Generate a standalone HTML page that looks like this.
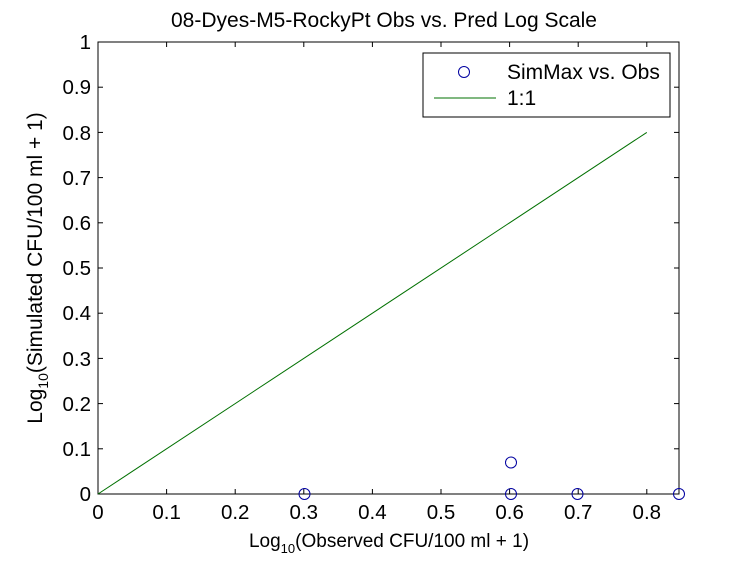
<!DOCTYPE html>
<html><head><style>body{margin:0;background:#fff}</style></head><body>
<svg width="750" height="563" xmlns="http://www.w3.org/2000/svg" font-family="Liberation Sans, sans-serif">
<rect width="750" height="563" fill="#fff"/>
<rect x="98" y="42" width="581" height="452" fill="#fff" stroke="#000" stroke-width="1"/>
<g stroke="#000" stroke-width="1">
<line x1="166.6" y1="494" x2="166.6" y2="489"/><line x1="235.2" y1="494" x2="235.2" y2="489"/><line x1="303.8" y1="494" x2="303.8" y2="489"/><line x1="372.4" y1="494" x2="372.4" y2="489"/><line x1="441" y1="494" x2="441" y2="489"/><line x1="509.6" y1="494" x2="509.6" y2="489"/><line x1="578.2" y1="494" x2="578.2" y2="489"/><line x1="646.8" y1="494" x2="646.8" y2="489"/>
<line x1="166.6" y1="42" x2="166.6" y2="47"/><line x1="235.2" y1="42" x2="235.2" y2="47"/><line x1="303.8" y1="42" x2="303.8" y2="47"/><line x1="372.4" y1="42" x2="372.4" y2="47"/><line x1="441" y1="42" x2="441" y2="47"/><line x1="509.6" y1="42" x2="509.6" y2="47"/><line x1="578.2" y1="42" x2="578.2" y2="47"/><line x1="646.8" y1="42" x2="646.8" y2="47"/>
<line x1="98" y1="448.8" x2="103" y2="448.8"/><line x1="98" y1="403.6" x2="103" y2="403.6"/><line x1="98" y1="358.4" x2="103" y2="358.4"/><line x1="98" y1="313.2" x2="103" y2="313.2"/><line x1="98" y1="268" x2="103" y2="268"/><line x1="98" y1="222.8" x2="103" y2="222.8"/><line x1="98" y1="177.6" x2="103" y2="177.6"/><line x1="98" y1="132.4" x2="103" y2="132.4"/><line x1="98" y1="87.2" x2="103" y2="87.2"/>
<line x1="679" y1="448.8" x2="674" y2="448.8"/><line x1="679" y1="403.6" x2="674" y2="403.6"/><line x1="679" y1="358.4" x2="674" y2="358.4"/><line x1="679" y1="313.2" x2="674" y2="313.2"/><line x1="679" y1="268" x2="674" y2="268"/><line x1="679" y1="222.8" x2="674" y2="222.8"/><line x1="679" y1="177.6" x2="674" y2="177.6"/><line x1="679" y1="132.4" x2="674" y2="132.4"/><line x1="679" y1="87.2" x2="674" y2="87.2"/>
</g>
<g font-size="20.5" text-anchor="middle" fill="#000">
<text x="98" y="519">0</text><text x="166.6" y="519">0.1</text><text x="235.2" y="519">0.2</text><text x="303.8" y="519">0.3</text><text x="372.4" y="519">0.4</text><text x="441" y="519">0.5</text><text x="509.6" y="519">0.6</text><text x="578.2" y="519">0.7</text><text x="646.8" y="519">0.8</text>
</g>
<g font-size="20.5" text-anchor="end" fill="#000">
<text x="91" y="501">0</text><text x="91" y="456">0.1</text><text x="91" y="411">0.2</text><text x="91" y="366">0.3</text><text x="91" y="320">0.4</text><text x="91" y="275">0.5</text><text x="91" y="230">0.6</text><text x="91" y="185">0.7</text><text x="91" y="140">0.8</text><text x="91" y="94">0.9</text><text x="91" y="49">1</text>
</g>
<text x="384" y="27" font-size="21" text-anchor="middle">08-Dyes-M5-RockyPt Obs vs. Pred Log Scale</text>
<text x="389" y="547" font-size="19" text-anchor="middle">Log<tspan font-size="13" dy="6">10</tspan><tspan dy="-6">(Observed CFU/100 ml + 1)</tspan></text>
<text transform="translate(42,268) rotate(-90)" font-size="21" text-anchor="middle">Log<tspan font-size="14" dy="6">10</tspan><tspan dy="-6">(Simulated CFU/100 ml + 1)</tspan></text>
<line x1="98" y1="494" x2="646.8" y2="132.4" stroke="#007000" stroke-width="1"/>
<g fill="none" stroke="#0000a0" stroke-width="1">
<circle cx="304.5" cy="494" r="5.5"/><circle cx="511" cy="494" r="5.5"/><circle cx="511" cy="462.5" r="5.5"/><circle cx="577.5" cy="494" r="5.5"/><circle cx="679" cy="494" r="5.5"/>
</g>
<rect x="423" y="53" width="247" height="64" fill="#fff" stroke="#000" stroke-width="1"/>
<circle cx="464" cy="72" r="5.5" fill="none" stroke="#0000a0"/>
<text x="507" y="79" font-size="21">SimMax vs. Obs</text>
<line x1="434" y1="98" x2="496" y2="98" stroke="#007000"/>
<text x="507" y="105" font-size="21">1:1</text>
</svg>
</body></html>
